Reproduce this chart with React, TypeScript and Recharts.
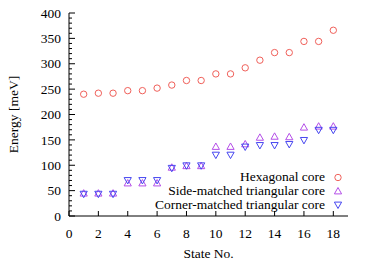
import React from "react";
import { ScatterChart, Scatter, XAxis, YAxis, Legend } from "recharts";

const STATES = [1, 2, 3, 4, 5, 6, 7, 8, 9, 10, 11, 12, 13, 14, 15, 16, 17, 18];
const HEXAGONAL = [240, 242, 242, 247, 247, 252, 258, 267, 267, 280, 280, 292, 307, 322, 322, 344, 344, 366];
const SIDE_MATCHED = [44, 44, 44, 64, 64, 64, 95, 98, 98, 136, 136, 141, 154, 156, 155, 174, 176, 176];
const CORNER_MATCHED = [44, 44, 44, 71, 71, 71, 95, 100, 100, 121, 121, 137, 140, 140, 142, 150, 170, 170];

const X_TICKS = [0, 2, 4, 6, 8, 10, 12, 14, 16, 18];
const Y_TICKS = Array.from({ length: 41 }, (_, i) => i * 10); // minor every 10, label every 50

const FONT = "'Liberation Serif', 'Times New Roman', serif";
const RED = "#f0605a";
const PURPLE = "#b44ee8";
const BLUE = "#4646f0";

const toPoints = (ys: number[]) => STATES.map((x, i) => ({ x, y: ys[i] }));

const Circle = (props: any) => (
  <circle cx={props.cx} cy={props.cy} r={3.2} fill="none" stroke={RED} strokeWidth={1} />
);

const TriUp = (props: any) => {
  const { cx, cy } = props;
  return (
    <polygon
      points={`${cx},${cy - 4} ${cx - 3.6},${cy + 2.4} ${cx + 3.6},${cy + 2.4}`}
      fill="none"
      stroke={PURPLE}
      strokeWidth={1}
    />
  );
};

const TriDown = (props: any) => {
  const { cx, cy } = props;
  return (
    <polygon
      points={`${cx},${cy + 4} ${cx - 3.6},${cy - 2.4} ${cx + 3.6},${cy - 2.4}`}
      fill="none"
      stroke={BLUE}
      strokeWidth={1}
    />
  );
};

function YTick({ x, y, payload }: any) {
  const major = payload.value % 50 === 0;
  return (
    <g>
      <line x1={x} x2={x + (major ? 6 : 3)} y1={y} y2={y} stroke="#000" strokeWidth={1} />
      {major && (
        <text x={x - 8} y={y} dy="0.35em" textAnchor="end" fontSize={13.5} fontFamily={FONT} fill="#000">
          {payload.value}
        </text>
      )}
    </g>
  );
}

function XTick({ x, y, payload }: any) {
  return (
    <g>
      <line x1={x} x2={x} y1={y} y2={y - 5} stroke="#000" strokeWidth={1} />
      <text x={x} y={y + 22} textAnchor="middle" fontSize={13.5} fontFamily={FONT} fill="#000">
        {payload.value}
      </text>
    </g>
  );
}

const LEGEND_ROWS = [
  { label: "Hexagonal core", Shape: Circle },
  { label: "Side-matched triangular core", Shape: TriUp },
  { label: "Corner-matched triangular core", Shape: TriDown },
];

function LegendBox() {
  return (
    <div style={{ width: 374, fontFamily: FONT, fontSize: 13.5 }}>
      {LEGEND_ROWS.map(({ label, Shape }) => (
        <div
          key={label}
          style={{
            display: "flex",
            justifyContent: "flex-end",
            alignItems: "center",
            height: 13.8,
            paddingRight: 30,
            color: "#000",
          }}
        >
          <span style={{ lineHeight: "13.8px" }}>{label}</span>
          <svg width={12} height={12} style={{ marginLeft: 7 }}>
            <Shape cx={6} cy={6.5} />
          </svg>
        </div>
      ))}
    </div>
  );
}

export default function App() {
  return (
    <div style={{ position: "absolute", left: 0, top: 0, width: 374, height: 262, background: "#fff" }}>
      <ScatterChart width={374} height={262} margin={{ top: 13, right: 26, bottom: 16, left: 0 }}>
        <XAxis
          type="number"
          dataKey="x"
          domain={[0, 19]}
          ticks={X_TICKS}
          interval={0}
          height={30}
          tickSize={0}
          tickMargin={0}
          tickLine={false}
          tick={<XTick />}
          axisLine={{ stroke: "#000" }}
          label={{ value: "State No.", position: "insideBottom", offset: -12, fontSize: 13.5, fontFamily: FONT, fill: "#000" }}
        />
        <XAxis
          xAxisId="top"
          orientation="top"
          type="number"
          dataKey="x"
          domain={[0, 19]}
          height={0}
          tick={false}
          tickLine={false}
          axisLine={{ stroke: "#000" }}
        />
        <YAxis
          type="number"
          dataKey="y"
          domain={[0, 400]}
          ticks={Y_TICKS}
          interval={0}
          width={69}
          tickSize={0}
          tickMargin={0}
          tickLine={false}
          tick={<YTick />}
          axisLine={{ stroke: "#000" }}
          label={{
            content: ({ viewBox }: any) => {
              const cx = viewBox.x + 13;
              const cy = viewBox.y + viewBox.height / 2;
              return (
                <text
                  x={cx}
                  y={cy}
                  dy="0.35em"
                  transform={`rotate(-90, ${cx}, ${cy})`}
                  textAnchor="middle"
                  fontSize={13.5}
                  fontFamily={FONT}
                  fill="#000"
                >
                  Energy [meV]
                </text>
              );
            },
          }}
        />
        <YAxis
          yAxisId="right"
          orientation="right"
          type="number"
          dataKey="y"
          domain={[0, 400]}
          width={0}
          tick={false}
          tickLine={false}
          axisLine={{ stroke: "#888" }}
        />
        <Legend
          layout="horizontal"
          verticalAlign="middle"
          align="center"
          content={<LegendBox />}
          wrapperStyle={{ top: 170, left: 0, right: "auto", bottom: "auto", width: 374, height: "auto" }}
        />
        <Scatter name="Hexagonal core" data={toPoints(HEXAGONAL)} shape={<Circle />} isAnimationActive={false} />
        <Scatter name="Side-matched triangular core" data={toPoints(SIDE_MATCHED)} shape={<TriUp />} isAnimationActive={false} />
        <Scatter name="Corner-matched triangular core" data={toPoints(CORNER_MATCHED)} shape={<TriDown />} isAnimationActive={false} />
      </ScatterChart>
    </div>
  );
}
